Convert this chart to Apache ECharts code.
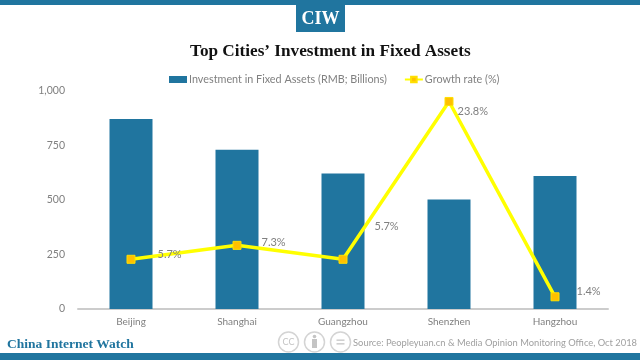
<!DOCTYPE html>
<html><head><meta charset="utf-8">
<style>html,body{margin:0;padding:0;background:#fff}#c{width:640px;height:360px}</style>
<script src="https://cdn.jsdelivr.net/npm/echarts@6/dist/echarts.min.js"></script>
</head><body><div id="c"></div>
<script>
const categories = ['Beijing','Shanghai','Guangzhou','Shenzhen','Hangzhou'];
const investment = [872, 730, 622, 502, 610];
const growth = [5.7, 7.3, 5.7, 23.8, 1.4];
const yTicks = [0, 250, 500, 750, 1000];
const blue = '#20759f', grey = '#808080';
const labelOffsets = [[17,-5],[15,-3],[22,-33],[-1,10],[12,-5]];
const chart = echarts.init(document.getElementById('c'));
chart.setOption({
  animation:false,
  textStyle:{fontFamily:'Lato'},
  title:{text:'Top Cities’ Investment in Fixed Assets',left:185,top:38,
    textStyle:{fontFamily:'Liberation Serif',fontWeight:'bold',fontSize:17.2,color:'#111'}},
  legend:{top:69,left:164,itemGap:17,itemWidth:18,itemHeight:7,
    textStyle:{color:grey,fontSize:10.8,fontFamily:'Lato',padding:[0,0,0,-3]},
    data:[{name:'Investment in Fixed Assets (RMB; Billions)',icon:'rect'},{name:'Growth rate (%)'}]},
  grid:{left:78,right:32,top:91,bottom:51,containLabel:false},
  xAxis:{type:'category',data:categories,axisTick:{show:false},
    axisLine:{lineStyle:{color:'#cccccc',width:2}},
    axisLabel:{color:grey,fontSize:10,margin:8}},
  yAxis:[{type:'value',min:0,max:1000,interval:250,
    splitLine:{show:false},axisLine:{show:false},axisTick:{show:false},
    axisLabel:{color:grey,fontSize:10.5,margin:13,formatter:v=>yTicks.includes(v)?v.toLocaleString('en-US'):''}},
    {type:'value',min:0,max:25,show:false,splitLine:{show:false}}],
  series:[
    {name:'Investment in Fixed Assets (RMB; Billions)',type:'bar',data:investment,barWidth:43,
     itemStyle:{color:blue}},
    {name:'Growth rate (%)',type:'line',yAxisIndex:1,
     data:growth.map((v,i)=>({value:v,label:{offset:labelOffsets[i]}})),
     symbol:'rect',symbolSize:8,
     lineStyle:{color:'#ffff00',width:3.5},
     itemStyle:{color:'#ffc000',borderColor:'#ffe000',borderWidth:1},
     label:{show:true,position:'right',color:grey,fontSize:11,formatter:p=>p.value+'%'},
     z:5}
  ],
  graphic:[
    {type:'rect',shape:{x:0,y:0,width:640,height:5},style:{fill:blue}},
    {type:'rect',shape:{x:0,y:353,width:640,height:7},style:{fill:blue}},
    {type:'rect',shape:{x:296,y:5,width:49,height:27},style:{fill:blue}},
    {type:'text',x:320.5,y:19,style:{text:'CIW',fill:'#fff',font:'bold 18px "Liberation Serif"',align:'center',verticalAlign:'middle'}},
    {type:'text',x:7,y:345,style:{text:'China Internet Watch',fill:blue,font:'bold 13.5px "Liberation Serif"',align:'left',verticalAlign:'middle'}},
    {type:'circle',shape:{cx:288.5,cy:342,r:10},style:{fill:'none',stroke:'#d4d4d4',lineWidth:1.5}},
    {type:'text',x:288.5,y:342,style:{text:'CC',fill:'#c4c4c4',font:'9px Lato',align:'center',verticalAlign:'middle'}},
    {type:'circle',shape:{cx:314.5,cy:342,r:10},style:{fill:'none',stroke:'#d4d4d4',lineWidth:1.5}},
    {type:'circle',shape:{cx:314.5,cy:336.5,r:1.8},style:{fill:'#c4c4c4'}},
    {type:'rect',shape:{x:312,y:339,width:5,height:9},style:{fill:'#c4c4c4'}},
    {type:'circle',shape:{cx:340.5,cy:342,r:10},style:{fill:'none',stroke:'#d4d4d4',lineWidth:1.5}},
    {type:'rect',shape:{x:336.5,y:339.5,width:8,height:1.3},style:{fill:'#c4c4c4'}},
    {type:'rect',shape:{x:336.5,y:343.2,width:8,height:1.3},style:{fill:'#c4c4c4'}},
    {type:'text',x:637,y:343,style:{text:'Source: Peopleyuan.cn & Media Opinion Monitoring Office, Oct 2018',fill:'#a0a0a0',font:'9.35px Lato',align:'right',verticalAlign:'middle'}}
  ]
});
</script></body></html>
